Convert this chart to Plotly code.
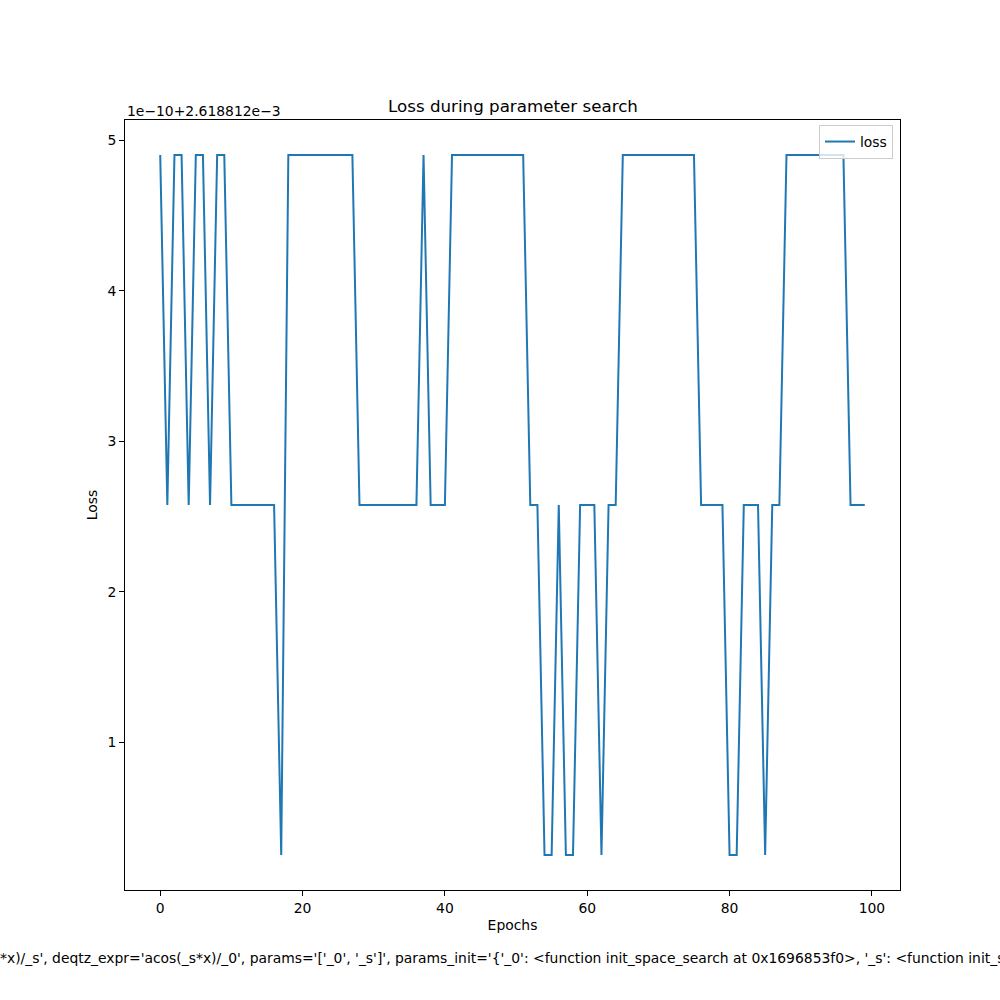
import numpy as np
import plotly.graph_objects as go

# Data (loss = 2.618812e-3 + level * 1e-10)
OFFSET = 2.618812e-3
SCALE = 1e-10
TOP, MID, BOT = 4.90, 2.576, 0.252
levels_seq = (
    [TOP, MID, TOP, TOP, MID, TOP, TOP, MID, TOP, TOP]
    + [MID] * 7 + [BOT] + [TOP] * 10 + [MID] * 9 + [TOP] + [MID] * 3
    + [TOP] * 11 + [MID] * 2 + [BOT] * 2 + [MID] + [BOT] * 2 + [MID] * 3
    + [BOT] + [MID] * 2 + [TOP] * 11 + [MID] * 4 + [BOT] * 2 + [MID] * 3
    + [BOT] + [MID] * 2 + [TOP] * 9 + [MID] * 3
)
loss = [OFFSET + v * SCALE for v in levels_seq]
epochs = list(range(len(loss)))

x_ticks = [0, 20, 40, 60, 80, 100]
y_ticks = [1, 2, 3, 4, 5]

title_text = "Loss during parameter search"
x_label = "Epochs"
y_label = "Loss"
offset_label = "1e\u221210+2.618812e\u22123"
footer_text = ("*x)/_s', deqtz_expr='acos(_s*x)/_0', params='['_0', '_s']', "
               "params_init='{'_0': <function init_space_search at 0x1696853f0>, "
               "'_s': <function init_space_search")

y_disp = (np.array(loss) - OFFSET) / SCALE

FONT = "DejaVu Sans"
fig = go.Figure()
fig.add_trace(go.Scatter(x=epochs, y=y_disp, mode="lines", name="loss",
                         line=dict(color="#1f77b4", width=2)))

L, R, T, B = 125, 100, 120, 110
W = 1000 - L - R
H = 1000 - T - B

fig.update_layout(
    width=1000, height=1000,
    margin=dict(l=L, r=R, t=T, b=B),
    paper_bgcolor="white", plot_bgcolor="white",
    font=dict(family=FONT, size=13.9, color="black"),
    showlegend=True,
    legend=dict(x=(893 - L) / W, y=(890 - 125) / H, xanchor="right", yanchor="top",
                bordercolor="#cccccc", borderwidth=1, bgcolor="rgba(255,255,255,0.8)",
                font=dict(family=FONT, size=13.9), itemwidth=30, tracegroupgap=0),
    xaxis=dict(range=[-4.95, 103.95], tickvals=x_ticks, showgrid=False, zeroline=False,
               showline=True, linecolor="black", linewidth=1, mirror=True,
               ticks="outside", ticklen=5, tickwidth=1, tickcolor="black",
               title=dict(text=x_label, font=dict(size=13.9), standoff=5)),
    yaxis=dict(range=[0.020, 5.133], tickvals=y_ticks, showgrid=False, zeroline=False,
               showline=True, linecolor="black", linewidth=1, mirror=True,
               ticks="outside", ticklen=5, tickwidth=1, tickcolor="black",
               title=dict(text=y_label, font=dict(size=13.9), standoff=6)),
    annotations=[
        dict(text=title_text, xref="paper", yref="paper", x=0.5, y=(890 - 106) / H,
             xanchor="center", yanchor="middle", showarrow=False,
             font=dict(family=FONT, size=16.7)),
        dict(text=offset_label, xref="paper", yref="paper", x=0, y=(890 - 111) / H,
             xanchor="left", yanchor="middle", showarrow=False,
             font=dict(family=FONT, size=13.9)),
        dict(text=footer_text, xref="paper", yref="paper", x=(-2 - L) / W, y=(890 - 958) / H,
             xanchor="left", yanchor="middle", showarrow=False,
             font=dict(family=FONT, size=13.9)),
    ],
)

fig.write_html("out.html")
